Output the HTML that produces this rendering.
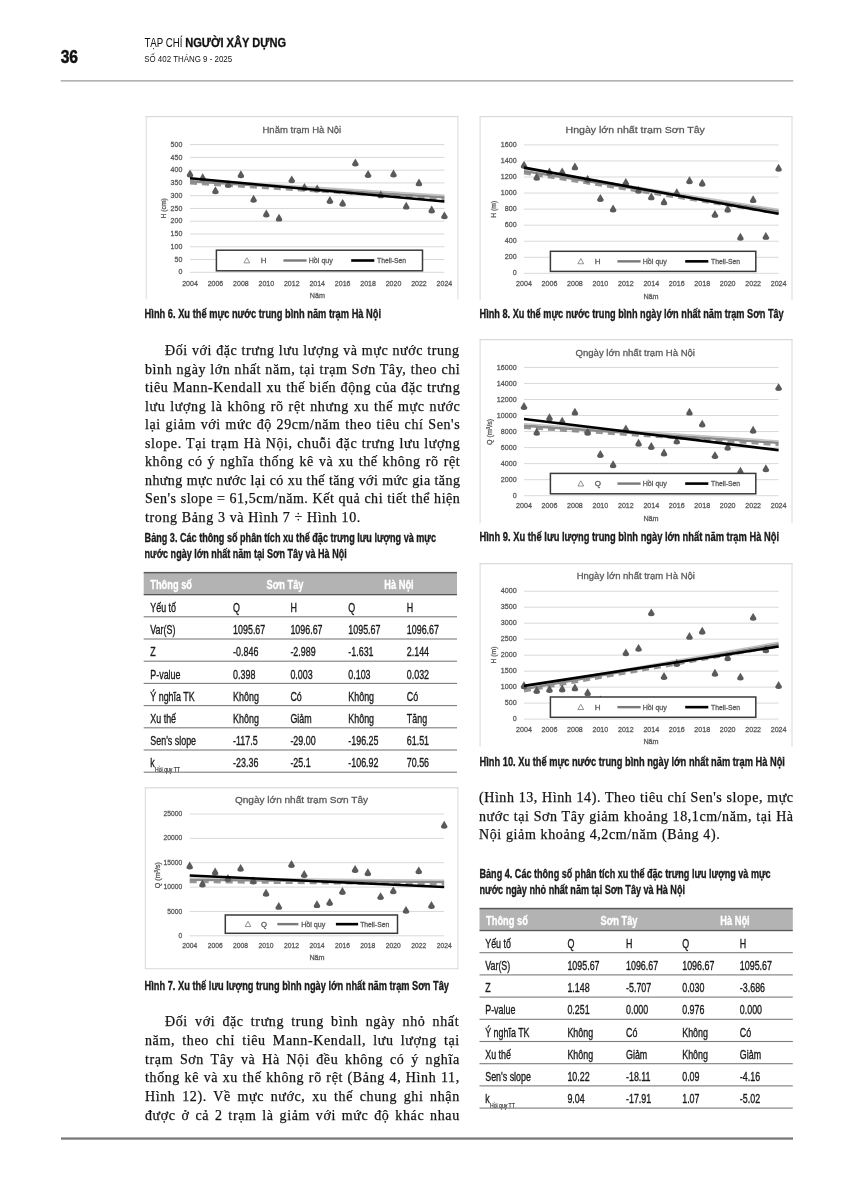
<!DOCTYPE html>
<html><head><meta charset="utf-8"><title>page</title>
<style>
html,body{margin:0;padding:0;background:#fff;}
body{width:854px;height:1200px;position:relative;overflow:hidden;}
svg{position:absolute;left:0;top:0;will-change:transform;}
svg text{font-family:"Liberation Sans", sans-serif;}
.ln{position:absolute;will-change:transform;height:19px;line-height:19px;font-family:"Liberation Serif", serif;font-size:14px;letter-spacing:0.62px;color:#141414;-webkit-text-stroke:0.25px #141414;white-space:nowrap;text-align:justify;}
</style></head><body>
<svg width="854" height="1200" viewBox="0 0 854 1200">
<defs><filter id="blur" x="-5%" y="-5%" width="110%" height="110%"><feGaussianBlur stdDeviation="0.55"/></filter></defs>
<text x="60.70" y="62.60" font-size="17.8" textLength="17.30" lengthAdjust="spacingAndGlyphs" font-weight="bold" fill="#111" stroke="#111" stroke-width="0.5">36</text>
<text x="144.40" y="47.40" font-size="12.5" textLength="38.10" lengthAdjust="spacingAndGlyphs" fill="#111">TẠP CHÍ</text>
<text x="185.20" y="47.40" font-size="12.5" textLength="100.80" lengthAdjust="spacingAndGlyphs" font-weight="bold" fill="#111" stroke="#111" stroke-width="0.3">NGƯỜI XÂY DỰNG</text>
<text x="144.20" y="62.20" font-size="9.6" textLength="88.00" lengthAdjust="spacingAndGlyphs" fill="#111">SỐ 402 THÁNG 9 - 2025</text>
<rect x="60.7" y="80.4" width="732.6" height="1" fill="#808080"/>
<rect x="61" y="1137.4" width="732" height="2.3" fill="#7a7a7a"/>
<rect x="145.70" y="116.00" width="312.70" height="1.2" fill="#d9d9d9"/>
<rect x="145.70" y="116.00" width="1" height="183.30" fill="#d9d9d9"/>
<rect x="457.40" y="116.00" width="1" height="183.30" fill="#d9d9d9"/>
<rect x="190.00" y="271.80" width="254.40" height="1" fill="#d9d9d9"/>
<text x="182.30" y="274.46" font-size="8" text-anchor="end" textLength="3.90" lengthAdjust="spacingAndGlyphs" fill="#595959" stroke="#595959" stroke-width="0.3">0</text>
<rect x="190.00" y="259.03" width="254.40" height="1" fill="#d9d9d9"/>
<text x="182.30" y="261.69" font-size="8" text-anchor="end" textLength="7.80" lengthAdjust="spacingAndGlyphs" fill="#595959" stroke="#595959" stroke-width="0.3">50</text>
<rect x="190.00" y="246.26" width="254.40" height="1" fill="#d9d9d9"/>
<text x="182.30" y="248.92" font-size="8" text-anchor="end" textLength="11.70" lengthAdjust="spacingAndGlyphs" fill="#595959" stroke="#595959" stroke-width="0.3">100</text>
<rect x="190.00" y="233.49" width="254.40" height="1" fill="#d9d9d9"/>
<text x="182.30" y="236.15" font-size="8" text-anchor="end" textLength="11.70" lengthAdjust="spacingAndGlyphs" fill="#595959" stroke="#595959" stroke-width="0.3">150</text>
<rect x="190.00" y="220.72" width="254.40" height="1" fill="#d9d9d9"/>
<text x="182.30" y="223.38" font-size="8" text-anchor="end" textLength="11.70" lengthAdjust="spacingAndGlyphs" fill="#595959" stroke="#595959" stroke-width="0.3">200</text>
<rect x="190.00" y="207.95" width="254.40" height="1" fill="#d9d9d9"/>
<text x="182.30" y="210.61" font-size="8" text-anchor="end" textLength="11.70" lengthAdjust="spacingAndGlyphs" fill="#595959" stroke="#595959" stroke-width="0.3">250</text>
<rect x="190.00" y="195.18" width="254.40" height="1" fill="#d9d9d9"/>
<text x="182.30" y="197.84" font-size="8" text-anchor="end" textLength="11.70" lengthAdjust="spacingAndGlyphs" fill="#595959" stroke="#595959" stroke-width="0.3">300</text>
<rect x="190.00" y="182.41" width="254.40" height="1" fill="#d9d9d9"/>
<text x="182.30" y="185.07" font-size="8" text-anchor="end" textLength="11.70" lengthAdjust="spacingAndGlyphs" fill="#595959" stroke="#595959" stroke-width="0.3">350</text>
<rect x="190.00" y="169.64" width="254.40" height="1" fill="#d9d9d9"/>
<text x="182.30" y="172.30" font-size="8" text-anchor="end" textLength="11.70" lengthAdjust="spacingAndGlyphs" fill="#595959" stroke="#595959" stroke-width="0.3">400</text>
<rect x="190.00" y="156.87" width="254.40" height="1" fill="#d9d9d9"/>
<text x="182.30" y="159.53" font-size="8" text-anchor="end" textLength="11.70" lengthAdjust="spacingAndGlyphs" fill="#595959" stroke="#595959" stroke-width="0.3">450</text>
<rect x="190.00" y="144.10" width="254.40" height="1" fill="#d9d9d9"/>
<text x="182.30" y="146.76" font-size="8" text-anchor="end" textLength="11.70" lengthAdjust="spacingAndGlyphs" fill="#595959" stroke="#595959" stroke-width="0.3">500</text>
<text x="190.00" y="285.50" font-size="8" text-anchor="middle" textLength="15.60" lengthAdjust="spacingAndGlyphs" fill="#595959" stroke="#595959" stroke-width="0.3">2004</text>
<text x="215.44" y="285.50" font-size="8" text-anchor="middle" textLength="15.60" lengthAdjust="spacingAndGlyphs" fill="#595959" stroke="#595959" stroke-width="0.3">2006</text>
<text x="240.88" y="285.50" font-size="8" text-anchor="middle" textLength="15.60" lengthAdjust="spacingAndGlyphs" fill="#595959" stroke="#595959" stroke-width="0.3">2008</text>
<text x="266.32" y="285.50" font-size="8" text-anchor="middle" textLength="15.60" lengthAdjust="spacingAndGlyphs" fill="#595959" stroke="#595959" stroke-width="0.3">2010</text>
<text x="291.76" y="285.50" font-size="8" text-anchor="middle" textLength="15.60" lengthAdjust="spacingAndGlyphs" fill="#595959" stroke="#595959" stroke-width="0.3">2012</text>
<text x="317.20" y="285.50" font-size="8" text-anchor="middle" textLength="15.60" lengthAdjust="spacingAndGlyphs" fill="#595959" stroke="#595959" stroke-width="0.3">2014</text>
<text x="342.64" y="285.50" font-size="8" text-anchor="middle" textLength="15.60" lengthAdjust="spacingAndGlyphs" fill="#595959" stroke="#595959" stroke-width="0.3">2016</text>
<text x="368.08" y="285.50" font-size="8" text-anchor="middle" textLength="15.60" lengthAdjust="spacingAndGlyphs" fill="#595959" stroke="#595959" stroke-width="0.3">2018</text>
<text x="393.52" y="285.50" font-size="8" text-anchor="middle" textLength="15.60" lengthAdjust="spacingAndGlyphs" fill="#595959" stroke="#595959" stroke-width="0.3">2020</text>
<text x="418.96" y="285.50" font-size="8" text-anchor="middle" textLength="15.60" lengthAdjust="spacingAndGlyphs" fill="#595959" stroke="#595959" stroke-width="0.3">2022</text>
<text x="444.40" y="285.50" font-size="8" text-anchor="middle" textLength="15.60" lengthAdjust="spacingAndGlyphs" fill="#595959" stroke="#595959" stroke-width="0.3">2024</text>
<text x="317.40" y="297.60" font-size="8" text-anchor="middle" textLength="15.20" lengthAdjust="spacingAndGlyphs" fill="#595959" stroke="#595959" stroke-width="0.3">Năm</text>
<text transform="translate(166.30 208.40) rotate(-90)" font-size="8" text-anchor="middle" textLength="20.4" lengthAdjust="spacingAndGlyphs" fill="#595959" stroke="#595959" stroke-width="0.3">H (cm)</text>
<text x="262.50" y="132.50" font-size="9.5" textLength="78.70" lengthAdjust="spacingAndGlyphs" fill="#595959" stroke="#595959" stroke-width="0.28">Hnăm trạm Hà Nội</text>
<g filter="url(#blur)"><line x1="190.00" y1="183.02" x2="444.40" y2="199.11" stroke="#6a6a6a" stroke-width="3" stroke-dasharray="7 5" opacity="0.7"/><line x1="190.00" y1="181.12" x2="444.40" y2="197.21" stroke="#8a8a8a" stroke-width="2.6"/><line x1="190.00" y1="179.32" x2="444.40" y2="195.41" stroke="#c4c4c4" stroke-width="1.6"/><path transform="translate(190.00 173.72)" d="M0 -4.2 L3.1 1.0 Q3.9 3.6 0 3.7 Q-3.9 3.6 -3.1 1.0 Z" fill="#5a5a5a"/><path transform="translate(202.72 177.55)" d="M0 -4.2 L3.1 1.0 Q3.9 3.6 0 3.7 Q-3.9 3.6 -3.1 1.0 Z" fill="#5a5a5a"/><path transform="translate(215.44 190.57)" d="M0 -4.2 L3.1 1.0 Q3.9 3.6 0 3.7 Q-3.9 3.6 -3.1 1.0 Z" fill="#5a5a5a"/><path transform="translate(228.16 184.19)" d="M0 -4.2 L3.1 1.0 Q3.9 3.6 0 3.7 Q-3.9 3.6 -3.1 1.0 Z" fill="#5a5a5a"/><path transform="translate(240.88 174.48)" d="M0 -4.2 L3.1 1.0 Q3.9 3.6 0 3.7 Q-3.9 3.6 -3.1 1.0 Z" fill="#5a5a5a"/><path transform="translate(253.60 199.00)" d="M0 -4.2 L3.1 1.0 Q3.9 3.6 0 3.7 Q-3.9 3.6 -3.1 1.0 Z" fill="#5a5a5a"/><path transform="translate(266.32 213.81)" d="M0 -4.2 L3.1 1.0 Q3.9 3.6 0 3.7 Q-3.9 3.6 -3.1 1.0 Z" fill="#5a5a5a"/><path transform="translate(279.04 217.90)" d="M0 -4.2 L3.1 1.0 Q3.9 3.6 0 3.7 Q-3.9 3.6 -3.1 1.0 Z" fill="#5a5a5a"/><path transform="translate(291.76 179.59)" d="M0 -4.2 L3.1 1.0 Q3.9 3.6 0 3.7 Q-3.9 3.6 -3.1 1.0 Z" fill="#5a5a5a"/><path transform="translate(304.48 187.25)" d="M0 -4.2 L3.1 1.0 Q3.9 3.6 0 3.7 Q-3.9 3.6 -3.1 1.0 Z" fill="#5a5a5a"/><path transform="translate(317.20 188.78)" d="M0 -4.2 L3.1 1.0 Q3.9 3.6 0 3.7 Q-3.9 3.6 -3.1 1.0 Z" fill="#5a5a5a"/><path transform="translate(329.92 200.28)" d="M0 -4.2 L3.1 1.0 Q3.9 3.6 0 3.7 Q-3.9 3.6 -3.1 1.0 Z" fill="#5a5a5a"/><path transform="translate(342.64 203.09)" d="M0 -4.2 L3.1 1.0 Q3.9 3.6 0 3.7 Q-3.9 3.6 -3.1 1.0 Z" fill="#5a5a5a"/><path transform="translate(355.36 162.73)" d="M0 -4.2 L3.1 1.0 Q3.9 3.6 0 3.7 Q-3.9 3.6 -3.1 1.0 Z" fill="#5a5a5a"/><path transform="translate(368.08 174.23)" d="M0 -4.2 L3.1 1.0 Q3.9 3.6 0 3.7 Q-3.9 3.6 -3.1 1.0 Z" fill="#5a5a5a"/><path transform="translate(380.80 194.66)" d="M0 -4.2 L3.1 1.0 Q3.9 3.6 0 3.7 Q-3.9 3.6 -3.1 1.0 Z" fill="#5a5a5a"/><path transform="translate(393.52 173.72)" d="M0 -4.2 L3.1 1.0 Q3.9 3.6 0 3.7 Q-3.9 3.6 -3.1 1.0 Z" fill="#5a5a5a"/><path transform="translate(406.24 205.90)" d="M0 -4.2 L3.1 1.0 Q3.9 3.6 0 3.7 Q-3.9 3.6 -3.1 1.0 Z" fill="#5a5a5a"/><path transform="translate(418.96 182.65)" d="M0 -4.2 L3.1 1.0 Q3.9 3.6 0 3.7 Q-3.9 3.6 -3.1 1.0 Z" fill="#5a5a5a"/><path transform="translate(431.68 209.73)" d="M0 -4.2 L3.1 1.0 Q3.9 3.6 0 3.7 Q-3.9 3.6 -3.1 1.0 Z" fill="#5a5a5a"/><path transform="translate(444.40 215.60)" d="M0 -4.2 L3.1 1.0 Q3.9 3.6 0 3.7 Q-3.9 3.6 -3.1 1.0 Z" fill="#5a5a5a"/><line x1="190.00" y1="178.31" x2="444.40" y2="201.55" stroke="#000" stroke-width="2.6"/></g>
<rect x="216.40" y="250.20" width="206.10" height="20.60" fill="#fff" stroke="#3a3a3a" stroke-width="1.5"/>
<path d="M246.80 257.70 L249.70 262.90 L243.90 262.90 Z" fill="none" stroke="#777" stroke-width="0.8"/>
<text x="260.70" y="263.20" font-size="8" fill="#595959" stroke="#595959" stroke-width="0.3">H</text>
<rect x="283.40" y="259.30" width="23.20" height="2.4" fill="#7a7a7a"/>
<text x="308.70" y="263.20" font-size="8" textLength="24.20" lengthAdjust="spacingAndGlyphs" fill="#595959" stroke="#595959" stroke-width="0.3">Hồi quy</text>
<rect x="351.20" y="259.20" width="23.10" height="2.6" fill="#000"/>
<text x="377.00" y="263.20" font-size="8" textLength="29.00" lengthAdjust="spacingAndGlyphs" fill="#595959" stroke="#595959" stroke-width="0.3">Theil-Sen</text>
<rect x="479.60" y="116.00" width="312.90" height="1.2" fill="#d9d9d9"/>
<rect x="479.60" y="116.00" width="1" height="184.30" fill="#d9d9d9"/>
<rect x="791.50" y="116.00" width="1" height="184.30" fill="#d9d9d9"/>
<rect x="524.00" y="272.80" width="254.60" height="1" fill="#d9d9d9"/>
<text x="516.60" y="275.46" font-size="8" text-anchor="end" textLength="3.95" lengthAdjust="spacingAndGlyphs" fill="#595959" stroke="#595959" stroke-width="0.3">0</text>
<rect x="524.00" y="256.75" width="254.60" height="1" fill="#d9d9d9"/>
<text x="516.60" y="259.41" font-size="8" text-anchor="end" textLength="11.85" lengthAdjust="spacingAndGlyphs" fill="#595959" stroke="#595959" stroke-width="0.3">200</text>
<rect x="524.00" y="240.70" width="254.60" height="1" fill="#d9d9d9"/>
<text x="516.60" y="243.36" font-size="8" text-anchor="end" textLength="11.85" lengthAdjust="spacingAndGlyphs" fill="#595959" stroke="#595959" stroke-width="0.3">400</text>
<rect x="524.00" y="224.65" width="254.60" height="1" fill="#d9d9d9"/>
<text x="516.60" y="227.31" font-size="8" text-anchor="end" textLength="11.85" lengthAdjust="spacingAndGlyphs" fill="#595959" stroke="#595959" stroke-width="0.3">600</text>
<rect x="524.00" y="208.60" width="254.60" height="1" fill="#d9d9d9"/>
<text x="516.60" y="211.26" font-size="8" text-anchor="end" textLength="11.85" lengthAdjust="spacingAndGlyphs" fill="#595959" stroke="#595959" stroke-width="0.3">800</text>
<rect x="524.00" y="192.55" width="254.60" height="1" fill="#d9d9d9"/>
<text x="516.60" y="195.21" font-size="8" text-anchor="end" textLength="15.80" lengthAdjust="spacingAndGlyphs" fill="#595959" stroke="#595959" stroke-width="0.3">1000</text>
<rect x="524.00" y="176.50" width="254.60" height="1" fill="#d9d9d9"/>
<text x="516.60" y="179.16" font-size="8" text-anchor="end" textLength="15.80" lengthAdjust="spacingAndGlyphs" fill="#595959" stroke="#595959" stroke-width="0.3">1200</text>
<rect x="524.00" y="160.45" width="254.60" height="1" fill="#d9d9d9"/>
<text x="516.60" y="163.11" font-size="8" text-anchor="end" textLength="15.80" lengthAdjust="spacingAndGlyphs" fill="#595959" stroke="#595959" stroke-width="0.3">1400</text>
<rect x="524.00" y="144.40" width="254.60" height="1" fill="#d9d9d9"/>
<text x="516.60" y="147.06" font-size="8" text-anchor="end" textLength="15.80" lengthAdjust="spacingAndGlyphs" fill="#595959" stroke="#595959" stroke-width="0.3">1600</text>
<text x="524.00" y="285.80" font-size="8" text-anchor="middle" textLength="15.80" lengthAdjust="spacingAndGlyphs" fill="#595959" stroke="#595959" stroke-width="0.3">2004</text>
<text x="549.46" y="285.80" font-size="8" text-anchor="middle" textLength="15.80" lengthAdjust="spacingAndGlyphs" fill="#595959" stroke="#595959" stroke-width="0.3">2006</text>
<text x="574.92" y="285.80" font-size="8" text-anchor="middle" textLength="15.80" lengthAdjust="spacingAndGlyphs" fill="#595959" stroke="#595959" stroke-width="0.3">2008</text>
<text x="600.38" y="285.80" font-size="8" text-anchor="middle" textLength="15.80" lengthAdjust="spacingAndGlyphs" fill="#595959" stroke="#595959" stroke-width="0.3">2010</text>
<text x="625.84" y="285.80" font-size="8" text-anchor="middle" textLength="15.80" lengthAdjust="spacingAndGlyphs" fill="#595959" stroke="#595959" stroke-width="0.3">2012</text>
<text x="651.30" y="285.80" font-size="8" text-anchor="middle" textLength="15.80" lengthAdjust="spacingAndGlyphs" fill="#595959" stroke="#595959" stroke-width="0.3">2014</text>
<text x="676.76" y="285.80" font-size="8" text-anchor="middle" textLength="15.80" lengthAdjust="spacingAndGlyphs" fill="#595959" stroke="#595959" stroke-width="0.3">2016</text>
<text x="702.22" y="285.80" font-size="8" text-anchor="middle" textLength="15.80" lengthAdjust="spacingAndGlyphs" fill="#595959" stroke="#595959" stroke-width="0.3">2018</text>
<text x="727.68" y="285.80" font-size="8" text-anchor="middle" textLength="15.80" lengthAdjust="spacingAndGlyphs" fill="#595959" stroke="#595959" stroke-width="0.3">2020</text>
<text x="753.14" y="285.80" font-size="8" text-anchor="middle" textLength="15.80" lengthAdjust="spacingAndGlyphs" fill="#595959" stroke="#595959" stroke-width="0.3">2022</text>
<text x="778.60" y="285.80" font-size="8" text-anchor="middle" textLength="15.80" lengthAdjust="spacingAndGlyphs" fill="#595959" stroke="#595959" stroke-width="0.3">2024</text>
<text x="651.00" y="298.50" font-size="8" text-anchor="middle" textLength="15.20" lengthAdjust="spacingAndGlyphs" fill="#595959" stroke="#595959" stroke-width="0.3">Năm</text>
<text transform="translate(495.90 209.30) rotate(-90)" font-size="8" text-anchor="middle" textLength="17.0" lengthAdjust="spacingAndGlyphs" fill="#595959" stroke="#595959" stroke-width="0.3">H (m)</text>
<text x="565.50" y="133.20" font-size="9.5" textLength="139.40" lengthAdjust="spacingAndGlyphs" fill="#595959" stroke="#595959" stroke-width="0.28">Hngày lớn nhất trạm Sơn Tây</text>
<g filter="url(#blur)"><line x1="524.00" y1="172.96" x2="778.60" y2="213.25" stroke="#6a6a6a" stroke-width="3" stroke-dasharray="7 5" opacity="0.7"/><line x1="524.00" y1="171.06" x2="778.60" y2="211.35" stroke="#8a8a8a" stroke-width="2.6"/><line x1="524.00" y1="169.26" x2="778.60" y2="209.55" stroke="#c4c4c4" stroke-width="1.6"/><path transform="translate(524.00 164.96)" d="M0 -4.2 L3.1 1.0 Q3.9 3.6 0 3.7 Q-3.9 3.6 -3.1 1.0 Z" fill="#5a5a5a"/><path transform="translate(536.73 177.00)" d="M0 -4.2 L3.1 1.0 Q3.9 3.6 0 3.7 Q-3.9 3.6 -3.1 1.0 Z" fill="#5a5a5a"/><path transform="translate(549.46 171.70)" d="M0 -4.2 L3.1 1.0 Q3.9 3.6 0 3.7 Q-3.9 3.6 -3.1 1.0 Z" fill="#5a5a5a"/><path transform="translate(562.19 171.70)" d="M0 -4.2 L3.1 1.0 Q3.9 3.6 0 3.7 Q-3.9 3.6 -3.1 1.0 Z" fill="#5a5a5a"/><path transform="translate(574.92 166.65)" d="M0 -4.2 L3.1 1.0 Q3.9 3.6 0 3.7 Q-3.9 3.6 -3.1 1.0 Z" fill="#5a5a5a"/><path transform="translate(587.65 179.09)" d="M0 -4.2 L3.1 1.0 Q3.9 3.6 0 3.7 Q-3.9 3.6 -3.1 1.0 Z" fill="#5a5a5a"/><path transform="translate(600.38 198.27)" d="M0 -4.2 L3.1 1.0 Q3.9 3.6 0 3.7 Q-3.9 3.6 -3.1 1.0 Z" fill="#5a5a5a"/><path transform="translate(613.11 208.78)" d="M0 -4.2 L3.1 1.0 Q3.9 3.6 0 3.7 Q-3.9 3.6 -3.1 1.0 Z" fill="#5a5a5a"/><path transform="translate(625.84 182.14)" d="M0 -4.2 L3.1 1.0 Q3.9 3.6 0 3.7 Q-3.9 3.6 -3.1 1.0 Z" fill="#5a5a5a"/><path transform="translate(638.57 190.08)" d="M0 -4.2 L3.1 1.0 Q3.9 3.6 0 3.7 Q-3.9 3.6 -3.1 1.0 Z" fill="#5a5a5a"/><path transform="translate(651.30 196.66)" d="M0 -4.2 L3.1 1.0 Q3.9 3.6 0 3.7 Q-3.9 3.6 -3.1 1.0 Z" fill="#5a5a5a"/><path transform="translate(664.03 201.64)" d="M0 -4.2 L3.1 1.0 Q3.9 3.6 0 3.7 Q-3.9 3.6 -3.1 1.0 Z" fill="#5a5a5a"/><path transform="translate(676.76 192.57)" d="M0 -4.2 L3.1 1.0 Q3.9 3.6 0 3.7 Q-3.9 3.6 -3.1 1.0 Z" fill="#5a5a5a"/><path transform="translate(689.49 180.53)" d="M0 -4.2 L3.1 1.0 Q3.9 3.6 0 3.7 Q-3.9 3.6 -3.1 1.0 Z" fill="#5a5a5a"/><path transform="translate(702.22 183.02)" d="M0 -4.2 L3.1 1.0 Q3.9 3.6 0 3.7 Q-3.9 3.6 -3.1 1.0 Z" fill="#5a5a5a"/><path transform="translate(714.95 214.16)" d="M0 -4.2 L3.1 1.0 Q3.9 3.6 0 3.7 Q-3.9 3.6 -3.1 1.0 Z" fill="#5a5a5a"/><path transform="translate(727.68 208.94)" d="M0 -4.2 L3.1 1.0 Q3.9 3.6 0 3.7 Q-3.9 3.6 -3.1 1.0 Z" fill="#5a5a5a"/><path transform="translate(740.41 237.03)" d="M0 -4.2 L3.1 1.0 Q3.9 3.6 0 3.7 Q-3.9 3.6 -3.1 1.0 Z" fill="#5a5a5a"/><path transform="translate(753.14 199.39)" d="M0 -4.2 L3.1 1.0 Q3.9 3.6 0 3.7 Q-3.9 3.6 -3.1 1.0 Z" fill="#5a5a5a"/><path transform="translate(765.87 236.14)" d="M0 -4.2 L3.1 1.0 Q3.9 3.6 0 3.7 Q-3.9 3.6 -3.1 1.0 Z" fill="#5a5a5a"/><path transform="translate(778.60 168.01)" d="M0 -4.2 L3.1 1.0 Q3.9 3.6 0 3.7 Q-3.9 3.6 -3.1 1.0 Z" fill="#5a5a5a"/><line x1="524.00" y1="167.61" x2="778.60" y2="213.83" stroke="#000" stroke-width="2.6"/></g>
<rect x="550.40" y="251.30" width="205.40" height="20.10" fill="#fff" stroke="#3a3a3a" stroke-width="1.5"/>
<path d="M580.80 258.55 L583.70 263.75 L577.90 263.75 Z" fill="none" stroke="#777" stroke-width="0.8"/>
<text x="594.70" y="264.05" font-size="8" fill="#595959" stroke="#595959" stroke-width="0.3">H</text>
<rect x="617.40" y="260.15" width="23.20" height="2.4" fill="#7a7a7a"/>
<text x="642.70" y="264.05" font-size="8" textLength="24.20" lengthAdjust="spacingAndGlyphs" fill="#595959" stroke="#595959" stroke-width="0.3">Hồi quy</text>
<rect x="685.20" y="260.05" width="23.10" height="2.6" fill="#000"/>
<text x="711.00" y="264.05" font-size="8" textLength="29.00" lengthAdjust="spacingAndGlyphs" fill="#595959" stroke="#595959" stroke-width="0.3">Theil-Sen</text>
<rect x="479.60" y="339.00" width="312.90" height="1.2" fill="#d9d9d9"/>
<rect x="479.60" y="339.00" width="1" height="184.20" fill="#d9d9d9"/>
<rect x="791.50" y="339.00" width="1" height="184.20" fill="#d9d9d9"/>
<rect x="524.00" y="495.20" width="254.60" height="1" fill="#d9d9d9"/>
<text x="516.60" y="497.86" font-size="8" text-anchor="end" textLength="3.95" lengthAdjust="spacingAndGlyphs" fill="#595959" stroke="#595959" stroke-width="0.3">0</text>
<rect x="524.00" y="479.16" width="254.60" height="1" fill="#d9d9d9"/>
<text x="516.60" y="481.82" font-size="8" text-anchor="end" textLength="15.80" lengthAdjust="spacingAndGlyphs" fill="#595959" stroke="#595959" stroke-width="0.3">2000</text>
<rect x="524.00" y="463.12" width="254.60" height="1" fill="#d9d9d9"/>
<text x="516.60" y="465.79" font-size="8" text-anchor="end" textLength="15.80" lengthAdjust="spacingAndGlyphs" fill="#595959" stroke="#595959" stroke-width="0.3">4000</text>
<rect x="524.00" y="447.09" width="254.60" height="1" fill="#d9d9d9"/>
<text x="516.60" y="449.75" font-size="8" text-anchor="end" textLength="15.80" lengthAdjust="spacingAndGlyphs" fill="#595959" stroke="#595959" stroke-width="0.3">6000</text>
<rect x="524.00" y="431.05" width="254.60" height="1" fill="#d9d9d9"/>
<text x="516.60" y="433.71" font-size="8" text-anchor="end" textLength="15.80" lengthAdjust="spacingAndGlyphs" fill="#595959" stroke="#595959" stroke-width="0.3">8000</text>
<rect x="524.00" y="415.01" width="254.60" height="1" fill="#d9d9d9"/>
<text x="516.60" y="417.67" font-size="8" text-anchor="end" textLength="19.75" lengthAdjust="spacingAndGlyphs" fill="#595959" stroke="#595959" stroke-width="0.3">10000</text>
<rect x="524.00" y="398.97" width="254.60" height="1" fill="#d9d9d9"/>
<text x="516.60" y="401.63" font-size="8" text-anchor="end" textLength="19.75" lengthAdjust="spacingAndGlyphs" fill="#595959" stroke="#595959" stroke-width="0.3">12000</text>
<rect x="524.00" y="382.94" width="254.60" height="1" fill="#d9d9d9"/>
<text x="516.60" y="385.60" font-size="8" text-anchor="end" textLength="19.75" lengthAdjust="spacingAndGlyphs" fill="#595959" stroke="#595959" stroke-width="0.3">14000</text>
<rect x="524.00" y="366.90" width="254.60" height="1" fill="#d9d9d9"/>
<text x="516.60" y="369.56" font-size="8" text-anchor="end" textLength="19.75" lengthAdjust="spacingAndGlyphs" fill="#595959" stroke="#595959" stroke-width="0.3">16000</text>
<text x="524.00" y="508.20" font-size="8" text-anchor="middle" textLength="15.80" lengthAdjust="spacingAndGlyphs" fill="#595959" stroke="#595959" stroke-width="0.3">2004</text>
<text x="549.46" y="508.20" font-size="8" text-anchor="middle" textLength="15.80" lengthAdjust="spacingAndGlyphs" fill="#595959" stroke="#595959" stroke-width="0.3">2006</text>
<text x="574.92" y="508.20" font-size="8" text-anchor="middle" textLength="15.80" lengthAdjust="spacingAndGlyphs" fill="#595959" stroke="#595959" stroke-width="0.3">2008</text>
<text x="600.38" y="508.20" font-size="8" text-anchor="middle" textLength="15.80" lengthAdjust="spacingAndGlyphs" fill="#595959" stroke="#595959" stroke-width="0.3">2010</text>
<text x="625.84" y="508.20" font-size="8" text-anchor="middle" textLength="15.80" lengthAdjust="spacingAndGlyphs" fill="#595959" stroke="#595959" stroke-width="0.3">2012</text>
<text x="651.30" y="508.20" font-size="8" text-anchor="middle" textLength="15.80" lengthAdjust="spacingAndGlyphs" fill="#595959" stroke="#595959" stroke-width="0.3">2014</text>
<text x="676.76" y="508.20" font-size="8" text-anchor="middle" textLength="15.80" lengthAdjust="spacingAndGlyphs" fill="#595959" stroke="#595959" stroke-width="0.3">2016</text>
<text x="702.22" y="508.20" font-size="8" text-anchor="middle" textLength="15.80" lengthAdjust="spacingAndGlyphs" fill="#595959" stroke="#595959" stroke-width="0.3">2018</text>
<text x="727.68" y="508.20" font-size="8" text-anchor="middle" textLength="15.80" lengthAdjust="spacingAndGlyphs" fill="#595959" stroke="#595959" stroke-width="0.3">2020</text>
<text x="753.14" y="508.20" font-size="8" text-anchor="middle" textLength="15.80" lengthAdjust="spacingAndGlyphs" fill="#595959" stroke="#595959" stroke-width="0.3">2022</text>
<text x="778.60" y="508.20" font-size="8" text-anchor="middle" textLength="15.80" lengthAdjust="spacingAndGlyphs" fill="#595959" stroke="#595959" stroke-width="0.3">2024</text>
<text x="651.00" y="520.60" font-size="8" text-anchor="middle" textLength="15.20" lengthAdjust="spacingAndGlyphs" fill="#595959" stroke="#595959" stroke-width="0.3">Năm</text>
<text transform="translate(491.60 431.90) rotate(-90)" font-size="8" text-anchor="middle" textLength="26.0" lengthAdjust="spacingAndGlyphs" fill="#595959" stroke="#595959" stroke-width="0.3">Q (m³/s)</text>
<text x="575.50" y="355.90" font-size="9.5" textLength="119.50" lengthAdjust="spacingAndGlyphs" fill="#595959" stroke="#595959" stroke-width="0.28">Qngày lớn nhất trạm Hà Nội</text>
<g filter="url(#blur)"><line x1="524.00" y1="427.52" x2="778.60" y2="444.68" stroke="#6a6a6a" stroke-width="3" stroke-dasharray="7 5" opacity="0.7"/><line x1="524.00" y1="425.62" x2="778.60" y2="442.78" stroke="#8a8a8a" stroke-width="2.6"/><line x1="524.00" y1="423.82" x2="778.60" y2="440.98" stroke="#c4c4c4" stroke-width="1.6"/><path transform="translate(524.00 406.29)" d="M0 -4.2 L3.1 1.0 Q3.9 3.6 0 3.7 Q-3.9 3.6 -3.1 1.0 Z" fill="#5a5a5a"/><path transform="translate(536.73 431.95)" d="M0 -4.2 L3.1 1.0 Q3.9 3.6 0 3.7 Q-3.9 3.6 -3.1 1.0 Z" fill="#5a5a5a"/><path transform="translate(549.46 417.44)" d="M0 -4.2 L3.1 1.0 Q3.9 3.6 0 3.7 Q-3.9 3.6 -3.1 1.0 Z" fill="#5a5a5a"/><path transform="translate(562.19 421.05)" d="M0 -4.2 L3.1 1.0 Q3.9 3.6 0 3.7 Q-3.9 3.6 -3.1 1.0 Z" fill="#5a5a5a"/><path transform="translate(574.92 411.90)" d="M0 -4.2 L3.1 1.0 Q3.9 3.6 0 3.7 Q-3.9 3.6 -3.1 1.0 Z" fill="#5a5a5a"/><path transform="translate(587.65 432.03)" d="M0 -4.2 L3.1 1.0 Q3.9 3.6 0 3.7 Q-3.9 3.6 -3.1 1.0 Z" fill="#5a5a5a"/><path transform="translate(600.38 454.24)" d="M0 -4.2 L3.1 1.0 Q3.9 3.6 0 3.7 Q-3.9 3.6 -3.1 1.0 Z" fill="#5a5a5a"/><path transform="translate(613.11 464.43)" d="M0 -4.2 L3.1 1.0 Q3.9 3.6 0 3.7 Q-3.9 3.6 -3.1 1.0 Z" fill="#5a5a5a"/><path transform="translate(625.84 428.66)" d="M0 -4.2 L3.1 1.0 Q3.9 3.6 0 3.7 Q-3.9 3.6 -3.1 1.0 Z" fill="#5a5a5a"/><path transform="translate(638.57 442.94)" d="M0 -4.2 L3.1 1.0 Q3.9 3.6 0 3.7 Q-3.9 3.6 -3.1 1.0 Z" fill="#5a5a5a"/><path transform="translate(651.30 446.30)" d="M0 -4.2 L3.1 1.0 Q3.9 3.6 0 3.7 Q-3.9 3.6 -3.1 1.0 Z" fill="#5a5a5a"/><path transform="translate(664.03 452.80)" d="M0 -4.2 L3.1 1.0 Q3.9 3.6 0 3.7 Q-3.9 3.6 -3.1 1.0 Z" fill="#5a5a5a"/><path transform="translate(676.76 440.69)" d="M0 -4.2 L3.1 1.0 Q3.9 3.6 0 3.7 Q-3.9 3.6 -3.1 1.0 Z" fill="#5a5a5a"/><path transform="translate(689.49 411.90)" d="M0 -4.2 L3.1 1.0 Q3.9 3.6 0 3.7 Q-3.9 3.6 -3.1 1.0 Z" fill="#5a5a5a"/><path transform="translate(702.22 423.85)" d="M0 -4.2 L3.1 1.0 Q3.9 3.6 0 3.7 Q-3.9 3.6 -3.1 1.0 Z" fill="#5a5a5a"/><path transform="translate(714.95 455.37)" d="M0 -4.2 L3.1 1.0 Q3.9 3.6 0 3.7 Q-3.9 3.6 -3.1 1.0 Z" fill="#5a5a5a"/><path transform="translate(727.68 446.95)" d="M0 -4.2 L3.1 1.0 Q3.9 3.6 0 3.7 Q-3.9 3.6 -3.1 1.0 Z" fill="#5a5a5a"/><path transform="translate(740.41 471.00)" d="M0 -4.2 L3.1 1.0 Q3.9 3.6 0 3.7 Q-3.9 3.6 -3.1 1.0 Z" fill="#5a5a5a"/><path transform="translate(753.14 429.95)" d="M0 -4.2 L3.1 1.0 Q3.9 3.6 0 3.7 Q-3.9 3.6 -3.1 1.0 Z" fill="#5a5a5a"/><path transform="translate(765.87 468.52)" d="M0 -4.2 L3.1 1.0 Q3.9 3.6 0 3.7 Q-3.9 3.6 -3.1 1.0 Z" fill="#5a5a5a"/><path transform="translate(778.60 387.37)" d="M0 -4.2 L3.1 1.0 Q3.9 3.6 0 3.7 Q-3.9 3.6 -3.1 1.0 Z" fill="#5a5a5a"/><line x1="524.00" y1="418.92" x2="778.60" y2="450.15" stroke="#000" stroke-width="2.6"/></g>
<rect x="550.40" y="473.40" width="205.40" height="20.40" fill="#fff" stroke="#3a3a3a" stroke-width="1.5"/>
<path d="M580.80 480.80 L583.70 486.00 L577.90 486.00 Z" fill="none" stroke="#777" stroke-width="0.8"/>
<text x="594.70" y="486.30" font-size="8" fill="#595959" stroke="#595959" stroke-width="0.3">Q</text>
<rect x="617.40" y="482.40" width="23.20" height="2.4" fill="#7a7a7a"/>
<text x="642.70" y="486.30" font-size="8" textLength="24.20" lengthAdjust="spacingAndGlyphs" fill="#595959" stroke="#595959" stroke-width="0.3">Hồi quy</text>
<rect x="685.20" y="482.30" width="23.10" height="2.6" fill="#000"/>
<text x="711.00" y="486.30" font-size="8" textLength="29.00" lengthAdjust="spacingAndGlyphs" fill="#595959" stroke="#595959" stroke-width="0.3">Theil-Sen</text>
<rect x="479.60" y="563.10" width="312.90" height="1.2" fill="#d9d9d9"/>
<rect x="479.60" y="563.10" width="1" height="183.40" fill="#d9d9d9"/>
<rect x="791.50" y="563.10" width="1" height="183.40" fill="#d9d9d9"/>
<rect x="524.00" y="718.60" width="254.60" height="1" fill="#d9d9d9"/>
<text x="516.60" y="721.26" font-size="8" text-anchor="end" textLength="3.95" lengthAdjust="spacingAndGlyphs" fill="#595959" stroke="#595959" stroke-width="0.3">0</text>
<rect x="524.00" y="702.61" width="254.60" height="1" fill="#d9d9d9"/>
<text x="516.60" y="705.27" font-size="8" text-anchor="end" textLength="11.85" lengthAdjust="spacingAndGlyphs" fill="#595959" stroke="#595959" stroke-width="0.3">500</text>
<rect x="524.00" y="686.62" width="254.60" height="1" fill="#d9d9d9"/>
<text x="516.60" y="689.28" font-size="8" text-anchor="end" textLength="15.80" lengthAdjust="spacingAndGlyphs" fill="#595959" stroke="#595959" stroke-width="0.3">1000</text>
<rect x="524.00" y="670.64" width="254.60" height="1" fill="#d9d9d9"/>
<text x="516.60" y="673.30" font-size="8" text-anchor="end" textLength="15.80" lengthAdjust="spacingAndGlyphs" fill="#595959" stroke="#595959" stroke-width="0.3">1500</text>
<rect x="524.00" y="654.65" width="254.60" height="1" fill="#d9d9d9"/>
<text x="516.60" y="657.31" font-size="8" text-anchor="end" textLength="15.80" lengthAdjust="spacingAndGlyphs" fill="#595959" stroke="#595959" stroke-width="0.3">2000</text>
<rect x="524.00" y="638.66" width="254.60" height="1" fill="#d9d9d9"/>
<text x="516.60" y="641.32" font-size="8" text-anchor="end" textLength="15.80" lengthAdjust="spacingAndGlyphs" fill="#595959" stroke="#595959" stroke-width="0.3">2500</text>
<rect x="524.00" y="622.68" width="254.60" height="1" fill="#d9d9d9"/>
<text x="516.60" y="625.34" font-size="8" text-anchor="end" textLength="15.80" lengthAdjust="spacingAndGlyphs" fill="#595959" stroke="#595959" stroke-width="0.3">3000</text>
<rect x="524.00" y="606.69" width="254.60" height="1" fill="#d9d9d9"/>
<text x="516.60" y="609.35" font-size="8" text-anchor="end" textLength="15.80" lengthAdjust="spacingAndGlyphs" fill="#595959" stroke="#595959" stroke-width="0.3">3500</text>
<rect x="524.00" y="590.70" width="254.60" height="1" fill="#d9d9d9"/>
<text x="516.60" y="593.36" font-size="8" text-anchor="end" textLength="15.80" lengthAdjust="spacingAndGlyphs" fill="#595959" stroke="#595959" stroke-width="0.3">4000</text>
<text x="524.00" y="732.00" font-size="8" text-anchor="middle" textLength="15.80" lengthAdjust="spacingAndGlyphs" fill="#595959" stroke="#595959" stroke-width="0.3">2004</text>
<text x="549.46" y="732.00" font-size="8" text-anchor="middle" textLength="15.80" lengthAdjust="spacingAndGlyphs" fill="#595959" stroke="#595959" stroke-width="0.3">2006</text>
<text x="574.92" y="732.00" font-size="8" text-anchor="middle" textLength="15.80" lengthAdjust="spacingAndGlyphs" fill="#595959" stroke="#595959" stroke-width="0.3">2008</text>
<text x="600.38" y="732.00" font-size="8" text-anchor="middle" textLength="15.80" lengthAdjust="spacingAndGlyphs" fill="#595959" stroke="#595959" stroke-width="0.3">2010</text>
<text x="625.84" y="732.00" font-size="8" text-anchor="middle" textLength="15.80" lengthAdjust="spacingAndGlyphs" fill="#595959" stroke="#595959" stroke-width="0.3">2012</text>
<text x="651.30" y="732.00" font-size="8" text-anchor="middle" textLength="15.80" lengthAdjust="spacingAndGlyphs" fill="#595959" stroke="#595959" stroke-width="0.3">2014</text>
<text x="676.76" y="732.00" font-size="8" text-anchor="middle" textLength="15.80" lengthAdjust="spacingAndGlyphs" fill="#595959" stroke="#595959" stroke-width="0.3">2016</text>
<text x="702.22" y="732.00" font-size="8" text-anchor="middle" textLength="15.80" lengthAdjust="spacingAndGlyphs" fill="#595959" stroke="#595959" stroke-width="0.3">2018</text>
<text x="727.68" y="732.00" font-size="8" text-anchor="middle" textLength="15.80" lengthAdjust="spacingAndGlyphs" fill="#595959" stroke="#595959" stroke-width="0.3">2020</text>
<text x="753.14" y="732.00" font-size="8" text-anchor="middle" textLength="15.80" lengthAdjust="spacingAndGlyphs" fill="#595959" stroke="#595959" stroke-width="0.3">2022</text>
<text x="778.60" y="732.00" font-size="8" text-anchor="middle" textLength="15.80" lengthAdjust="spacingAndGlyphs" fill="#595959" stroke="#595959" stroke-width="0.3">2024</text>
<text x="651.00" y="744.40" font-size="8" text-anchor="middle" textLength="15.20" lengthAdjust="spacingAndGlyphs" fill="#595959" stroke="#595959" stroke-width="0.3">Năm</text>
<text transform="translate(495.90 655.00) rotate(-90)" font-size="8" text-anchor="middle" textLength="17.0" lengthAdjust="spacingAndGlyphs" fill="#595959" stroke="#595959" stroke-width="0.3">H (m)</text>
<text x="576.70" y="578.90" font-size="9.5" textLength="118.20" lengthAdjust="spacingAndGlyphs" fill="#595959" stroke="#595959" stroke-width="0.28">Hngày lớn nhất trạm Hà Nội</text>
<g filter="url(#blur)"><line x1="524.00" y1="690.98" x2="778.60" y2="645.95" stroke="#6a6a6a" stroke-width="3" stroke-dasharray="7 5" opacity="0.7"/><line x1="524.00" y1="689.08" x2="778.60" y2="644.05" stroke="#8a8a8a" stroke-width="2.6"/><line x1="524.00" y1="687.28" x2="778.60" y2="642.25" stroke="#c4c4c4" stroke-width="1.6"/><path transform="translate(524.00 685.53)" d="M0 -4.2 L3.1 1.0 Q3.9 3.6 0 3.7 Q-3.9 3.6 -3.1 1.0 Z" fill="#5a5a5a"/><path transform="translate(536.73 690.23)" d="M0 -4.2 L3.1 1.0 Q3.9 3.6 0 3.7 Q-3.9 3.6 -3.1 1.0 Z" fill="#5a5a5a"/><path transform="translate(549.46 689.33)" d="M0 -4.2 L3.1 1.0 Q3.9 3.6 0 3.7 Q-3.9 3.6 -3.1 1.0 Z" fill="#5a5a5a"/><path transform="translate(562.19 688.82)" d="M0 -4.2 L3.1 1.0 Q3.9 3.6 0 3.7 Q-3.9 3.6 -3.1 1.0 Z" fill="#5a5a5a"/><path transform="translate(574.92 687.64)" d="M0 -4.2 L3.1 1.0 Q3.9 3.6 0 3.7 Q-3.9 3.6 -3.1 1.0 Z" fill="#5a5a5a"/><path transform="translate(587.65 692.53)" d="M0 -4.2 L3.1 1.0 Q3.9 3.6 0 3.7 Q-3.9 3.6 -3.1 1.0 Z" fill="#5a5a5a"/><path transform="translate(600.38 699.60)" d="M0 -4.2 L3.1 1.0 Q3.9 3.6 0 3.7 Q-3.9 3.6 -3.1 1.0 Z" fill="#5a5a5a"/><path transform="translate(613.11 701.51)" d="M0 -4.2 L3.1 1.0 Q3.9 3.6 0 3.7 Q-3.9 3.6 -3.1 1.0 Z" fill="#5a5a5a"/><path transform="translate(625.84 652.59)" d="M0 -4.2 L3.1 1.0 Q3.9 3.6 0 3.7 Q-3.9 3.6 -3.1 1.0 Z" fill="#5a5a5a"/><path transform="translate(638.57 648.12)" d="M0 -4.2 L3.1 1.0 Q3.9 3.6 0 3.7 Q-3.9 3.6 -3.1 1.0 Z" fill="#5a5a5a"/><path transform="translate(651.30 612.62)" d="M0 -4.2 L3.1 1.0 Q3.9 3.6 0 3.7 Q-3.9 3.6 -3.1 1.0 Z" fill="#5a5a5a"/><path transform="translate(664.03 676.32)" d="M0 -4.2 L3.1 1.0 Q3.9 3.6 0 3.7 Q-3.9 3.6 -3.1 1.0 Z" fill="#5a5a5a"/><path transform="translate(676.76 663.24)" d="M0 -4.2 L3.1 1.0 Q3.9 3.6 0 3.7 Q-3.9 3.6 -3.1 1.0 Z" fill="#5a5a5a"/><path transform="translate(689.49 636.16)" d="M0 -4.2 L3.1 1.0 Q3.9 3.6 0 3.7 Q-3.9 3.6 -3.1 1.0 Z" fill="#5a5a5a"/><path transform="translate(702.22 630.98)" d="M0 -4.2 L3.1 1.0 Q3.9 3.6 0 3.7 Q-3.9 3.6 -3.1 1.0 Z" fill="#5a5a5a"/><path transform="translate(714.95 673.06)" d="M0 -4.2 L3.1 1.0 Q3.9 3.6 0 3.7 Q-3.9 3.6 -3.1 1.0 Z" fill="#5a5a5a"/><path transform="translate(727.68 657.55)" d="M0 -4.2 L3.1 1.0 Q3.9 3.6 0 3.7 Q-3.9 3.6 -3.1 1.0 Z" fill="#5a5a5a"/><path transform="translate(740.41 676.83)" d="M0 -4.2 L3.1 1.0 Q3.9 3.6 0 3.7 Q-3.9 3.6 -3.1 1.0 Z" fill="#5a5a5a"/><path transform="translate(753.14 617.10)" d="M0 -4.2 L3.1 1.0 Q3.9 3.6 0 3.7 Q-3.9 3.6 -3.1 1.0 Z" fill="#5a5a5a"/><path transform="translate(765.87 649.46)" d="M0 -4.2 L3.1 1.0 Q3.9 3.6 0 3.7 Q-3.9 3.6 -3.1 1.0 Z" fill="#5a5a5a"/><path transform="translate(778.60 685.24)" d="M0 -4.2 L3.1 1.0 Q3.9 3.6 0 3.7 Q-3.9 3.6 -3.1 1.0 Z" fill="#5a5a5a"/><line x1="524.00" y1="685.85" x2="778.60" y2="646.55" stroke="#000" stroke-width="2.6"/></g>
<rect x="550.40" y="697.00" width="205.40" height="20.30" fill="#fff" stroke="#3a3a3a" stroke-width="1.5"/>
<path d="M580.80 704.35 L583.70 709.55 L577.90 709.55 Z" fill="none" stroke="#777" stroke-width="0.8"/>
<text x="594.70" y="709.85" font-size="8" fill="#595959" stroke="#595959" stroke-width="0.3">H</text>
<rect x="617.40" y="705.95" width="23.20" height="2.4" fill="#7a7a7a"/>
<text x="642.70" y="709.85" font-size="8" textLength="24.20" lengthAdjust="spacingAndGlyphs" fill="#595959" stroke="#595959" stroke-width="0.3">Hồi quy</text>
<rect x="685.20" y="705.85" width="23.10" height="2.6" fill="#000"/>
<text x="711.00" y="709.85" font-size="8" textLength="29.00" lengthAdjust="spacingAndGlyphs" fill="#595959" stroke="#595959" stroke-width="0.3">Theil-Sen</text>
<rect x="144.80" y="787.20" width="313.60" height="1.2" fill="#d9d9d9"/>
<rect x="144.80" y="787.20" width="1" height="182.00" fill="#d9d9d9"/>
<rect x="457.40" y="787.20" width="1" height="182.00" fill="#d9d9d9"/>
<rect x="144.80" y="968.20" width="313.60" height="1" fill="#d9d9d9"/>
<rect x="189.70" y="935.30" width="254.50" height="1" fill="#d9d9d9"/>
<text x="182.20" y="937.88" font-size="7.7" text-anchor="end" textLength="3.75" lengthAdjust="spacingAndGlyphs" fill="#595959" stroke="#595959" stroke-width="0.3">0</text>
<rect x="189.70" y="910.94" width="254.50" height="1" fill="#d9d9d9"/>
<text x="182.20" y="913.52" font-size="7.7" text-anchor="end" textLength="15.00" lengthAdjust="spacingAndGlyphs" fill="#595959" stroke="#595959" stroke-width="0.3">5000</text>
<rect x="189.70" y="886.58" width="254.50" height="1" fill="#d9d9d9"/>
<text x="182.20" y="889.16" font-size="7.7" text-anchor="end" textLength="18.75" lengthAdjust="spacingAndGlyphs" fill="#595959" stroke="#595959" stroke-width="0.3">10000</text>
<rect x="189.70" y="862.22" width="254.50" height="1" fill="#d9d9d9"/>
<text x="182.20" y="864.80" font-size="7.7" text-anchor="end" textLength="18.75" lengthAdjust="spacingAndGlyphs" fill="#595959" stroke="#595959" stroke-width="0.3">15000</text>
<rect x="189.70" y="837.86" width="254.50" height="1" fill="#d9d9d9"/>
<text x="182.20" y="840.44" font-size="7.7" text-anchor="end" textLength="18.75" lengthAdjust="spacingAndGlyphs" fill="#595959" stroke="#595959" stroke-width="0.3">20000</text>
<rect x="189.70" y="813.50" width="254.50" height="1" fill="#d9d9d9"/>
<text x="182.20" y="816.08" font-size="7.7" text-anchor="end" textLength="18.75" lengthAdjust="spacingAndGlyphs" fill="#595959" stroke="#595959" stroke-width="0.3">25000</text>
<text x="189.70" y="948.40" font-size="7.7" text-anchor="middle" textLength="15.00" lengthAdjust="spacingAndGlyphs" fill="#595959" stroke="#595959" stroke-width="0.3">2004</text>
<text x="215.15" y="948.40" font-size="7.7" text-anchor="middle" textLength="15.00" lengthAdjust="spacingAndGlyphs" fill="#595959" stroke="#595959" stroke-width="0.3">2006</text>
<text x="240.60" y="948.40" font-size="7.7" text-anchor="middle" textLength="15.00" lengthAdjust="spacingAndGlyphs" fill="#595959" stroke="#595959" stroke-width="0.3">2008</text>
<text x="266.05" y="948.40" font-size="7.7" text-anchor="middle" textLength="15.00" lengthAdjust="spacingAndGlyphs" fill="#595959" stroke="#595959" stroke-width="0.3">2010</text>
<text x="291.50" y="948.40" font-size="7.7" text-anchor="middle" textLength="15.00" lengthAdjust="spacingAndGlyphs" fill="#595959" stroke="#595959" stroke-width="0.3">2012</text>
<text x="316.95" y="948.40" font-size="7.7" text-anchor="middle" textLength="15.00" lengthAdjust="spacingAndGlyphs" fill="#595959" stroke="#595959" stroke-width="0.3">2014</text>
<text x="342.40" y="948.40" font-size="7.7" text-anchor="middle" textLength="15.00" lengthAdjust="spacingAndGlyphs" fill="#595959" stroke="#595959" stroke-width="0.3">2016</text>
<text x="367.85" y="948.40" font-size="7.7" text-anchor="middle" textLength="15.00" lengthAdjust="spacingAndGlyphs" fill="#595959" stroke="#595959" stroke-width="0.3">2018</text>
<text x="393.30" y="948.40" font-size="7.7" text-anchor="middle" textLength="15.00" lengthAdjust="spacingAndGlyphs" fill="#595959" stroke="#595959" stroke-width="0.3">2020</text>
<text x="418.75" y="948.40" font-size="7.7" text-anchor="middle" textLength="15.00" lengthAdjust="spacingAndGlyphs" fill="#595959" stroke="#595959" stroke-width="0.3">2022</text>
<text x="444.20" y="948.40" font-size="7.7" text-anchor="middle" textLength="15.00" lengthAdjust="spacingAndGlyphs" fill="#595959" stroke="#595959" stroke-width="0.3">2024</text>
<text x="317.00" y="960.40" font-size="7.7" text-anchor="middle" textLength="15.20" lengthAdjust="spacingAndGlyphs" fill="#595959" stroke="#595959" stroke-width="0.3">Năm</text>
<text transform="translate(159.60 875.20) rotate(-90)" font-size="7.7" text-anchor="middle" textLength="26.0" lengthAdjust="spacingAndGlyphs" fill="#595959" stroke="#595959" stroke-width="0.3">Q (m³/s)</text>
<text x="234.90" y="803.20" font-size="9.5" textLength="133.20" lengthAdjust="spacingAndGlyphs" fill="#595959" stroke="#595959" stroke-width="0.28">Qngày lớn nhất trạm Sơn Tây</text>
<g filter="url(#blur)"><line x1="189.70" y1="881.64" x2="444.20" y2="883.91" stroke="#6a6a6a" stroke-width="3" stroke-dasharray="7 5" opacity="0.7"/><line x1="189.70" y1="879.74" x2="444.20" y2="882.01" stroke="#8a8a8a" stroke-width="2.6"/><line x1="189.70" y1="877.94" x2="444.20" y2="880.21" stroke="#c4c4c4" stroke-width="1.6"/><path transform="translate(189.70 865.79)" d="M0 -4.2 L3.1 1.0 Q3.9 3.6 0 3.7 Q-3.9 3.6 -3.1 1.0 Z" fill="#5a5a5a"/><path transform="translate(202.42 883.72)" d="M0 -4.2 L3.1 1.0 Q3.9 3.6 0 3.7 Q-3.9 3.6 -3.1 1.0 Z" fill="#5a5a5a"/><path transform="translate(215.15 871.68)" d="M0 -4.2 L3.1 1.0 Q3.9 3.6 0 3.7 Q-3.9 3.6 -3.1 1.0 Z" fill="#5a5a5a"/><path transform="translate(227.88 878.31)" d="M0 -4.2 L3.1 1.0 Q3.9 3.6 0 3.7 Q-3.9 3.6 -3.1 1.0 Z" fill="#5a5a5a"/><path transform="translate(240.60 868.08)" d="M0 -4.2 L3.1 1.0 Q3.9 3.6 0 3.7 Q-3.9 3.6 -3.1 1.0 Z" fill="#5a5a5a"/><path transform="translate(253.32 880.75)" d="M0 -4.2 L3.1 1.0 Q3.9 3.6 0 3.7 Q-3.9 3.6 -3.1 1.0 Z" fill="#5a5a5a"/><path transform="translate(266.05 893.02)" d="M0 -4.2 L3.1 1.0 Q3.9 3.6 0 3.7 Q-3.9 3.6 -3.1 1.0 Z" fill="#5a5a5a"/><path transform="translate(278.77 906.13)" d="M0 -4.2 L3.1 1.0 Q3.9 3.6 0 3.7 Q-3.9 3.6 -3.1 1.0 Z" fill="#5a5a5a"/><path transform="translate(291.50 864.28)" d="M0 -4.2 L3.1 1.0 Q3.9 3.6 0 3.7 Q-3.9 3.6 -3.1 1.0 Z" fill="#5a5a5a"/><path transform="translate(304.23 874.22)" d="M0 -4.2 L3.1 1.0 Q3.9 3.6 0 3.7 Q-3.9 3.6 -3.1 1.0 Z" fill="#5a5a5a"/><path transform="translate(316.95 904.42)" d="M0 -4.2 L3.1 1.0 Q3.9 3.6 0 3.7 Q-3.9 3.6 -3.1 1.0 Z" fill="#5a5a5a"/><path transform="translate(329.67 902.18)" d="M0 -4.2 L3.1 1.0 Q3.9 3.6 0 3.7 Q-3.9 3.6 -3.1 1.0 Z" fill="#5a5a5a"/><path transform="translate(342.40 891.22)" d="M0 -4.2 L3.1 1.0 Q3.9 3.6 0 3.7 Q-3.9 3.6 -3.1 1.0 Z" fill="#5a5a5a"/><path transform="translate(355.12 869.30)" d="M0 -4.2 L3.1 1.0 Q3.9 3.6 0 3.7 Q-3.9 3.6 -3.1 1.0 Z" fill="#5a5a5a"/><path transform="translate(367.85 872.51)" d="M0 -4.2 L3.1 1.0 Q3.9 3.6 0 3.7 Q-3.9 3.6 -3.1 1.0 Z" fill="#5a5a5a"/><path transform="translate(380.57 896.34)" d="M0 -4.2 L3.1 1.0 Q3.9 3.6 0 3.7 Q-3.9 3.6 -3.1 1.0 Z" fill="#5a5a5a"/><path transform="translate(393.30 890.59)" d="M0 -4.2 L3.1 1.0 Q3.9 3.6 0 3.7 Q-3.9 3.6 -3.1 1.0 Z" fill="#5a5a5a"/><path transform="translate(406.02 910.08)" d="M0 -4.2 L3.1 1.0 Q3.9 3.6 0 3.7 Q-3.9 3.6 -3.1 1.0 Z" fill="#5a5a5a"/><path transform="translate(418.75 870.61)" d="M0 -4.2 L3.1 1.0 Q3.9 3.6 0 3.7 Q-3.9 3.6 -3.1 1.0 Z" fill="#5a5a5a"/><path transform="translate(431.48 905.20)" d="M0 -4.2 L3.1 1.0 Q3.9 3.6 0 3.7 Q-3.9 3.6 -3.1 1.0 Z" fill="#5a5a5a"/><path transform="translate(444.20 825.01)" d="M0 -4.2 L3.1 1.0 Q3.9 3.6 0 3.7 Q-3.9 3.6 -3.1 1.0 Z" fill="#5a5a5a"/><line x1="189.70" y1="875.48" x2="444.20" y2="886.98" stroke="#000" stroke-width="2.6"/></g>
<rect x="225.30" y="915.00" width="172.20" height="18.30" fill="#fff" stroke="#3a3a3a" stroke-width="1.5"/>
<path d="M248.00 921.35 L250.90 926.55 L245.10 926.55 Z" fill="none" stroke="#777" stroke-width="0.8"/>
<text x="261.10" y="926.85" font-size="7.7" fill="#595959" stroke="#595959" stroke-width="0.3">Q</text>
<rect x="277.30" y="922.95" width="21.10" height="2.4" fill="#7a7a7a"/>
<text x="301.20" y="926.85" font-size="7.7" textLength="24.20" lengthAdjust="spacingAndGlyphs" fill="#595959" stroke="#595959" stroke-width="0.3">Hồi quy</text>
<rect x="335.90" y="922.85" width="22.20" height="2.6" fill="#000"/>
<text x="360.20" y="926.85" font-size="7.7" textLength="29.00" lengthAdjust="spacingAndGlyphs" fill="#595959" stroke="#595959" stroke-width="0.3">Theil-Sen</text>
<text x="144.60" y="317.80" font-size="12.4" textLength="236.50" lengthAdjust="spacingAndGlyphs" font-weight="bold" fill="#1a1a1a" stroke="#1a1a1a" stroke-width="0.35">Hình 6. Xu thế mực nước trung bình năm trạm Hà Nội</text>
<text x="479.50" y="317.60" font-size="12.4" textLength="304.20" lengthAdjust="spacingAndGlyphs" font-weight="bold" fill="#1a1a1a" stroke="#1a1a1a" stroke-width="0.35">Hình 8. Xu thế mực nước trung bình ngày lớn nhất năm trạm Sơn Tây</text>
<text x="479.50" y="541.40" font-size="12.4" textLength="299.50" lengthAdjust="spacingAndGlyphs" font-weight="bold" fill="#1a1a1a" stroke="#1a1a1a" stroke-width="0.35">Hình 9. Xu thế lưu lượng trung bình ngày lớn nhất năm trạm Hà Nội</text>
<text x="479.50" y="765.50" font-size="12.4" textLength="305.40" lengthAdjust="spacingAndGlyphs" font-weight="bold" fill="#1a1a1a" stroke="#1a1a1a" stroke-width="0.35">Hình 10. Xu thế mực nước trung bình ngày lớn nhất năm trạm Hà Nội</text>
<text x="144.60" y="989.60" font-size="12.4" textLength="304.40" lengthAdjust="spacingAndGlyphs" font-weight="bold" fill="#1a1a1a" stroke="#1a1a1a" stroke-width="0.35">Hình 7. Xu thế lưu lượng trung bình ngày lớn nhất năm trạm Sơn Tây</text>
<text x="144.60" y="542.00" font-size="12.4" textLength="291.40" lengthAdjust="spacingAndGlyphs" font-weight="bold" fill="#1a1a1a" stroke="#1a1a1a" stroke-width="0.35">Bảng 3. Các thông số phân tích xu thế đặc trưng lưu lượng và mực</text>
<text x="144.60" y="558.40" font-size="12.4" textLength="202.10" lengthAdjust="spacingAndGlyphs" font-weight="bold" fill="#1a1a1a" stroke="#1a1a1a" stroke-width="0.35">nước ngày lớn nhất năm tại Sơn Tây và Hà Nội</text>
<text x="479.50" y="877.70" font-size="12.4" textLength="291.10" lengthAdjust="spacingAndGlyphs" font-weight="bold" fill="#1a1a1a" stroke="#1a1a1a" stroke-width="0.35">Bảng 4. Các thông số phân tích xu thế đặc trưng lưu lượng và mực</text>
<text x="479.50" y="894.20" font-size="12.4" textLength="205.50" lengthAdjust="spacingAndGlyphs" font-weight="bold" fill="#1a1a1a" stroke="#1a1a1a" stroke-width="0.35">nước ngày nhỏ nhất năm tại Sơn Tây và Hà Nội</text>
<rect x="143.70" y="572.60" width="313.30" height="22.00" fill="#b3b3b3"/>
<rect x="143.70" y="571.90" width="313.30" height="1.5" fill="#5a5a5a"/>
<rect x="143.70" y="594.00" width="313.30" height="1.3" fill="#555"/>
<text transform="translate(150.30 588.80) scale(0.76 1)" font-size="12.2" font-weight="bold" stroke="#fff" stroke-width="0.35" fill="#fff">Thông số</text>
<text transform="translate(285.00 588.80) scale(0.76 1)" font-size="12.2" font-weight="bold" stroke="#fff" stroke-width="0.35" text-anchor="middle" fill="#fff">Sơn Tây</text>
<text transform="translate(399.00 588.80) scale(0.76 1)" font-size="12.2" font-weight="bold" stroke="#fff" stroke-width="0.35" text-anchor="middle" fill="#fff">Hà Nội</text>
<text transform="translate(150.30 611.90) scale(0.73 1)" font-size="12.2" stroke="#1a1a1a" stroke-width="0.35" fill="#1a1a1a">Yếu tố</text>
<text transform="translate(233.10 611.90) scale(0.73 1)" font-size="12.2" stroke="#1a1a1a" stroke-width="0.35" fill="#1a1a1a">Q</text>
<text transform="translate(290.40 611.90) scale(0.73 1)" font-size="12.2" stroke="#1a1a1a" stroke-width="0.35" fill="#1a1a1a">H</text>
<text transform="translate(348.30 611.90) scale(0.73 1)" font-size="12.2" stroke="#1a1a1a" stroke-width="0.35" fill="#1a1a1a">Q</text>
<text transform="translate(406.80 611.90) scale(0.73 1)" font-size="12.2" stroke="#1a1a1a" stroke-width="0.35" fill="#1a1a1a">H</text>
<rect x="143.70" y="616.25" width="313.30" height="1.1" fill="#7c7c7c"/>
<text transform="translate(150.30 634.10) scale(0.73 1)" font-size="12.2" stroke="#1a1a1a" stroke-width="0.35" fill="#1a1a1a">Var(S)</text>
<text transform="translate(233.10 634.10) scale(0.73 1)" font-size="12.2" stroke="#1a1a1a" stroke-width="0.35" fill="#1a1a1a">1095.67</text>
<text transform="translate(290.40 634.10) scale(0.73 1)" font-size="12.2" stroke="#1a1a1a" stroke-width="0.35" fill="#1a1a1a">1096.67</text>
<text transform="translate(348.30 634.10) scale(0.73 1)" font-size="12.2" stroke="#1a1a1a" stroke-width="0.35" fill="#1a1a1a">1095.67</text>
<text transform="translate(406.80 634.10) scale(0.73 1)" font-size="12.2" stroke="#1a1a1a" stroke-width="0.35" fill="#1a1a1a">1096.67</text>
<rect x="143.70" y="638.45" width="313.30" height="1.1" fill="#7c7c7c"/>
<text transform="translate(150.30 656.30) scale(0.73 1)" font-size="12.2" stroke="#1a1a1a" stroke-width="0.35" fill="#1a1a1a">Z</text>
<text transform="translate(233.10 656.30) scale(0.73 1)" font-size="12.2" stroke="#1a1a1a" stroke-width="0.35" fill="#1a1a1a">-0.846</text>
<text transform="translate(290.40 656.30) scale(0.73 1)" font-size="12.2" stroke="#1a1a1a" stroke-width="0.35" fill="#1a1a1a">-2.989</text>
<text transform="translate(348.30 656.30) scale(0.73 1)" font-size="12.2" stroke="#1a1a1a" stroke-width="0.35" fill="#1a1a1a">-1.631</text>
<text transform="translate(406.80 656.30) scale(0.73 1)" font-size="12.2" stroke="#1a1a1a" stroke-width="0.35" fill="#1a1a1a">2.144</text>
<rect x="143.70" y="660.65" width="313.30" height="1.1" fill="#7c7c7c"/>
<text transform="translate(150.30 678.50) scale(0.73 1)" font-size="12.2" stroke="#1a1a1a" stroke-width="0.35" fill="#1a1a1a">P-value</text>
<text transform="translate(233.10 678.50) scale(0.73 1)" font-size="12.2" stroke="#1a1a1a" stroke-width="0.35" fill="#1a1a1a">0.398</text>
<text transform="translate(290.40 678.50) scale(0.73 1)" font-size="12.2" stroke="#1a1a1a" stroke-width="0.35" fill="#1a1a1a">0.003</text>
<text transform="translate(348.30 678.50) scale(0.73 1)" font-size="12.2" stroke="#1a1a1a" stroke-width="0.35" fill="#1a1a1a">0.103</text>
<text transform="translate(406.80 678.50) scale(0.73 1)" font-size="12.2" stroke="#1a1a1a" stroke-width="0.35" fill="#1a1a1a">0.032</text>
<rect x="143.70" y="682.85" width="313.30" height="1.1" fill="#7c7c7c"/>
<text transform="translate(150.30 700.70) scale(0.73 1)" font-size="12.2" stroke="#1a1a1a" stroke-width="0.35" fill="#1a1a1a">Ý nghĩa TK</text>
<text transform="translate(233.10 700.70) scale(0.73 1)" font-size="12.2" stroke="#1a1a1a" stroke-width="0.35" fill="#1a1a1a">Không</text>
<text transform="translate(290.40 700.70) scale(0.73 1)" font-size="12.2" stroke="#1a1a1a" stroke-width="0.35" fill="#1a1a1a">Có</text>
<text transform="translate(348.30 700.70) scale(0.73 1)" font-size="12.2" stroke="#1a1a1a" stroke-width="0.35" fill="#1a1a1a">Không</text>
<text transform="translate(406.80 700.70) scale(0.73 1)" font-size="12.2" stroke="#1a1a1a" stroke-width="0.35" fill="#1a1a1a">Có</text>
<rect x="143.70" y="705.05" width="313.30" height="1.1" fill="#7c7c7c"/>
<text transform="translate(150.30 722.90) scale(0.73 1)" font-size="12.2" stroke="#1a1a1a" stroke-width="0.35" fill="#1a1a1a">Xu thế</text>
<text transform="translate(233.10 722.90) scale(0.73 1)" font-size="12.2" stroke="#1a1a1a" stroke-width="0.35" fill="#1a1a1a">Không</text>
<text transform="translate(290.40 722.90) scale(0.73 1)" font-size="12.2" stroke="#1a1a1a" stroke-width="0.35" fill="#1a1a1a">Giảm</text>
<text transform="translate(348.30 722.90) scale(0.73 1)" font-size="12.2" stroke="#1a1a1a" stroke-width="0.35" fill="#1a1a1a">Không</text>
<text transform="translate(406.80 722.90) scale(0.73 1)" font-size="12.2" stroke="#1a1a1a" stroke-width="0.35" fill="#1a1a1a">Tăng</text>
<rect x="143.70" y="727.25" width="313.30" height="1.1" fill="#7c7c7c"/>
<text transform="translate(150.30 745.10) scale(0.73 1)" font-size="12.2" stroke="#1a1a1a" stroke-width="0.35" fill="#1a1a1a">Sen's slope</text>
<text transform="translate(233.10 745.10) scale(0.73 1)" font-size="12.2" stroke="#1a1a1a" stroke-width="0.35" fill="#1a1a1a">-117.5</text>
<text transform="translate(290.40 745.10) scale(0.73 1)" font-size="12.2" stroke="#1a1a1a" stroke-width="0.35" fill="#1a1a1a">-29.00</text>
<text transform="translate(348.30 745.10) scale(0.73 1)" font-size="12.2" stroke="#1a1a1a" stroke-width="0.35" fill="#1a1a1a">-196.25</text>
<text transform="translate(406.80 745.10) scale(0.73 1)" font-size="12.2" stroke="#1a1a1a" stroke-width="0.35" fill="#1a1a1a">61.51</text>
<rect x="143.70" y="749.45" width="313.30" height="1.1" fill="#7c7c7c"/>
<text transform="translate(150.30 767.30) scale(0.73 1)" font-size="12.2" stroke="#1a1a1a" stroke-width="0.35" fill="#1a1a1a">k</text>
<text transform="translate(155.10 771.60) scale(0.75 1)" font-size="6.8" stroke="#1a1a1a" stroke-width="0.15" fill="#1a1a1a">Hồi quy TT</text>
<text transform="translate(233.10 767.30) scale(0.73 1)" font-size="12.2" stroke="#1a1a1a" stroke-width="0.35" fill="#1a1a1a">-23.36</text>
<text transform="translate(290.40 767.30) scale(0.73 1)" font-size="12.2" stroke="#1a1a1a" stroke-width="0.35" fill="#1a1a1a">-25.1</text>
<text transform="translate(348.30 767.30) scale(0.73 1)" font-size="12.2" stroke="#1a1a1a" stroke-width="0.35" fill="#1a1a1a">-106.92</text>
<text transform="translate(406.80 767.30) scale(0.73 1)" font-size="12.2" stroke="#1a1a1a" stroke-width="0.35" fill="#1a1a1a">70.56</text>
<rect x="143.70" y="771.65" width="313.30" height="1.1" fill="#7c7c7c"/>
<rect x="479.50" y="908.50" width="313.30" height="22.00" fill="#b3b3b3"/>
<rect x="479.50" y="907.80" width="313.30" height="1.5" fill="#5a5a5a"/>
<rect x="479.50" y="929.90" width="313.30" height="1.3" fill="#555"/>
<text transform="translate(486.10 924.70) scale(0.76 1)" font-size="12.2" font-weight="bold" stroke="#fff" stroke-width="0.35" fill="#fff">Thông số</text>
<text transform="translate(619.00 924.70) scale(0.76 1)" font-size="12.2" font-weight="bold" stroke="#fff" stroke-width="0.35" text-anchor="middle" fill="#fff">Sơn Tây</text>
<text transform="translate(735.00 924.70) scale(0.76 1)" font-size="12.2" font-weight="bold" stroke="#fff" stroke-width="0.35" text-anchor="middle" fill="#fff">Hà Nội</text>
<text transform="translate(485.20 947.80) scale(0.73 1)" font-size="12.2" stroke="#1a1a1a" stroke-width="0.35" fill="#1a1a1a">Yếu tố</text>
<text transform="translate(567.40 947.80) scale(0.73 1)" font-size="12.2" stroke="#1a1a1a" stroke-width="0.35" fill="#1a1a1a">Q</text>
<text transform="translate(626.00 947.80) scale(0.73 1)" font-size="12.2" stroke="#1a1a1a" stroke-width="0.35" fill="#1a1a1a">H</text>
<text transform="translate(682.20 947.80) scale(0.73 1)" font-size="12.2" stroke="#1a1a1a" stroke-width="0.35" fill="#1a1a1a">Q</text>
<text transform="translate(739.80 947.80) scale(0.73 1)" font-size="12.2" stroke="#1a1a1a" stroke-width="0.35" fill="#1a1a1a">H</text>
<rect x="479.50" y="952.15" width="313.30" height="1.1" fill="#7c7c7c"/>
<text transform="translate(485.20 970.00) scale(0.73 1)" font-size="12.2" stroke="#1a1a1a" stroke-width="0.35" fill="#1a1a1a">Var(S)</text>
<text transform="translate(567.40 970.00) scale(0.73 1)" font-size="12.2" stroke="#1a1a1a" stroke-width="0.35" fill="#1a1a1a">1095.67</text>
<text transform="translate(626.00 970.00) scale(0.73 1)" font-size="12.2" stroke="#1a1a1a" stroke-width="0.35" fill="#1a1a1a">1096.67</text>
<text transform="translate(682.20 970.00) scale(0.73 1)" font-size="12.2" stroke="#1a1a1a" stroke-width="0.35" fill="#1a1a1a">1096.67</text>
<text transform="translate(739.80 970.00) scale(0.73 1)" font-size="12.2" stroke="#1a1a1a" stroke-width="0.35" fill="#1a1a1a">1095.67</text>
<rect x="479.50" y="974.35" width="313.30" height="1.1" fill="#7c7c7c"/>
<text transform="translate(485.20 992.20) scale(0.73 1)" font-size="12.2" stroke="#1a1a1a" stroke-width="0.35" fill="#1a1a1a">Z</text>
<text transform="translate(567.40 992.20) scale(0.73 1)" font-size="12.2" stroke="#1a1a1a" stroke-width="0.35" fill="#1a1a1a">1.148</text>
<text transform="translate(626.00 992.20) scale(0.73 1)" font-size="12.2" stroke="#1a1a1a" stroke-width="0.35" fill="#1a1a1a">-5.707</text>
<text transform="translate(682.20 992.20) scale(0.73 1)" font-size="12.2" stroke="#1a1a1a" stroke-width="0.35" fill="#1a1a1a">0.030</text>
<text transform="translate(739.80 992.20) scale(0.73 1)" font-size="12.2" stroke="#1a1a1a" stroke-width="0.35" fill="#1a1a1a">-3.686</text>
<rect x="479.50" y="996.55" width="313.30" height="1.1" fill="#7c7c7c"/>
<text transform="translate(485.20 1014.40) scale(0.73 1)" font-size="12.2" stroke="#1a1a1a" stroke-width="0.35" fill="#1a1a1a">P-value</text>
<text transform="translate(567.40 1014.40) scale(0.73 1)" font-size="12.2" stroke="#1a1a1a" stroke-width="0.35" fill="#1a1a1a">0.251</text>
<text transform="translate(626.00 1014.40) scale(0.73 1)" font-size="12.2" stroke="#1a1a1a" stroke-width="0.35" fill="#1a1a1a">0.000</text>
<text transform="translate(682.20 1014.40) scale(0.73 1)" font-size="12.2" stroke="#1a1a1a" stroke-width="0.35" fill="#1a1a1a">0.976</text>
<text transform="translate(739.80 1014.40) scale(0.73 1)" font-size="12.2" stroke="#1a1a1a" stroke-width="0.35" fill="#1a1a1a">0.000</text>
<rect x="479.50" y="1018.75" width="313.30" height="1.1" fill="#7c7c7c"/>
<text transform="translate(485.20 1036.60) scale(0.73 1)" font-size="12.2" stroke="#1a1a1a" stroke-width="0.35" fill="#1a1a1a">Ý nghĩa TK</text>
<text transform="translate(567.40 1036.60) scale(0.73 1)" font-size="12.2" stroke="#1a1a1a" stroke-width="0.35" fill="#1a1a1a">Không</text>
<text transform="translate(626.00 1036.60) scale(0.73 1)" font-size="12.2" stroke="#1a1a1a" stroke-width="0.35" fill="#1a1a1a">Có</text>
<text transform="translate(682.20 1036.60) scale(0.73 1)" font-size="12.2" stroke="#1a1a1a" stroke-width="0.35" fill="#1a1a1a">Không</text>
<text transform="translate(739.80 1036.60) scale(0.73 1)" font-size="12.2" stroke="#1a1a1a" stroke-width="0.35" fill="#1a1a1a">Có</text>
<rect x="479.50" y="1040.95" width="313.30" height="1.1" fill="#7c7c7c"/>
<text transform="translate(485.20 1058.80) scale(0.73 1)" font-size="12.2" stroke="#1a1a1a" stroke-width="0.35" fill="#1a1a1a">Xu thế</text>
<text transform="translate(567.40 1058.80) scale(0.73 1)" font-size="12.2" stroke="#1a1a1a" stroke-width="0.35" fill="#1a1a1a">Không</text>
<text transform="translate(626.00 1058.80) scale(0.73 1)" font-size="12.2" stroke="#1a1a1a" stroke-width="0.35" fill="#1a1a1a">Giảm</text>
<text transform="translate(682.20 1058.80) scale(0.73 1)" font-size="12.2" stroke="#1a1a1a" stroke-width="0.35" fill="#1a1a1a">Không</text>
<text transform="translate(739.80 1058.80) scale(0.73 1)" font-size="12.2" stroke="#1a1a1a" stroke-width="0.35" fill="#1a1a1a">Giảm</text>
<rect x="479.50" y="1063.15" width="313.30" height="1.1" fill="#7c7c7c"/>
<text transform="translate(485.20 1081.00) scale(0.73 1)" font-size="12.2" stroke="#1a1a1a" stroke-width="0.35" fill="#1a1a1a">Sen's slope</text>
<text transform="translate(567.40 1081.00) scale(0.73 1)" font-size="12.2" stroke="#1a1a1a" stroke-width="0.35" fill="#1a1a1a">10.22</text>
<text transform="translate(626.00 1081.00) scale(0.73 1)" font-size="12.2" stroke="#1a1a1a" stroke-width="0.35" fill="#1a1a1a">-18.11</text>
<text transform="translate(682.20 1081.00) scale(0.73 1)" font-size="12.2" stroke="#1a1a1a" stroke-width="0.35" fill="#1a1a1a">0.09</text>
<text transform="translate(739.80 1081.00) scale(0.73 1)" font-size="12.2" stroke="#1a1a1a" stroke-width="0.35" fill="#1a1a1a">-4.16</text>
<rect x="479.50" y="1085.35" width="313.30" height="1.1" fill="#7c7c7c"/>
<text transform="translate(485.20 1103.20) scale(0.73 1)" font-size="12.2" stroke="#1a1a1a" stroke-width="0.35" fill="#1a1a1a">k</text>
<text transform="translate(490.00 1107.50) scale(0.75 1)" font-size="6.8" stroke="#1a1a1a" stroke-width="0.15" fill="#1a1a1a">Hồi quy TT</text>
<text transform="translate(567.40 1103.20) scale(0.73 1)" font-size="12.2" stroke="#1a1a1a" stroke-width="0.35" fill="#1a1a1a">9.04</text>
<text transform="translate(626.00 1103.20) scale(0.73 1)" font-size="12.2" stroke="#1a1a1a" stroke-width="0.35" fill="#1a1a1a">-17.91</text>
<text transform="translate(682.20 1103.20) scale(0.73 1)" font-size="12.2" stroke="#1a1a1a" stroke-width="0.35" fill="#1a1a1a">1.07</text>
<text transform="translate(739.80 1103.20) scale(0.73 1)" font-size="12.2" stroke="#1a1a1a" stroke-width="0.35" fill="#1a1a1a">-5.02</text>
<rect x="479.50" y="1107.55" width="313.30" height="1.1" fill="#7c7c7c"/>
</svg>
<div class="ln" style="left:165.30px;top:341.30px;width:294.70px;text-align-last:justify;letter-spacing:0.58px;">Đối với đặc trưng lưu lượng và mực nước trung</div>
<div class="ln" style="left:144.70px;top:359.80px;width:315.30px;text-align-last:justify;letter-spacing:0.6px;">bình ngày lớn nhất năm, tại trạm Sơn Tây, theo chỉ</div>
<div class="ln" style="left:144.70px;top:378.30px;width:315.30px;text-align-last:justify;">tiêu Mann-Kendall xu thế biến động của đặc trưng</div>
<div class="ln" style="left:144.70px;top:396.80px;width:315.30px;text-align-last:justify;">lưu lượng là không rõ rệt nhưng xu thế mực nước</div>
<div class="ln" style="left:144.70px;top:415.30px;width:315.30px;text-align-last:justify;">lại giảm với mức độ 29cm/năm theo tiêu chí Sen's</div>
<div class="ln" style="left:144.70px;top:433.80px;width:315.30px;text-align-last:justify;">slope. Tại trạm Hà Nội, chuỗi đặc trưng lưu lượng</div>
<div class="ln" style="left:144.70px;top:452.30px;width:315.30px;text-align-last:justify;">không có ý nghĩa thống kê và xu thế không rõ rệt</div>
<div class="ln" style="left:144.70px;top:470.80px;width:315.30px;text-align-last:justify;letter-spacing:0.41px;">nhưng mực nước lại có xu thế tăng với mức gia tăng</div>
<div class="ln" style="left:144.70px;top:489.30px;width:315.30px;text-align-last:justify;letter-spacing:0.52px;">Sen's slope = 61,5cm/năm. Kết quả chi tiết thể hiện</div>
<div class="ln" style="left:144.70px;top:507.80px;width:315.30px;text-align-last:left;">trong Bảng 3 và Hình 7 ÷ Hình 10.</div>
<div class="ln" style="left:165.30px;top:1012.10px;width:294.20px;text-align-last:justify;">Đối với đặc trưng trung bình ngày nhỏ nhất</div>
<div class="ln" style="left:144.70px;top:1030.84px;width:314.80px;text-align-last:justify;">năm, theo chỉ tiêu Mann-Kendall, lưu lượng tại</div>
<div class="ln" style="left:144.70px;top:1049.58px;width:314.80px;text-align-last:justify;">trạm Sơn Tây và Hà Nội đều không có ý nghĩa</div>
<div class="ln" style="left:144.70px;top:1068.32px;width:314.80px;text-align-last:justify;">thống kê và xu thế không rõ rệt (Bảng 4, Hình 11,</div>
<div class="ln" style="left:144.70px;top:1087.06px;width:314.80px;text-align-last:justify;">Hình 12). Về mực nước, xu thế chung ghi nhận</div>
<div class="ln" style="left:144.70px;top:1105.80px;width:314.80px;text-align-last:justify;">được ở cả 2 trạm là giảm với mức độ khác nhau</div>
<div class="ln" style="left:479.40px;top:788.10px;width:314.60px;text-align-last:justify;letter-spacing:0.57px;">(Hình 13, Hình 14). Theo tiêu chí Sen's slope, mực</div>
<div class="ln" style="left:479.40px;top:806.70px;width:314.60px;text-align-last:justify;letter-spacing:0.57px;">nước tại Sơn Tây giảm khoảng 18,1cm/năm, tại Hà</div>
<div class="ln" style="left:479.40px;top:825.30px;width:314.60px;text-align-last:left;">Nội giảm khoảng 4,2cm/năm (Bảng 4).</div>
</body></html>
